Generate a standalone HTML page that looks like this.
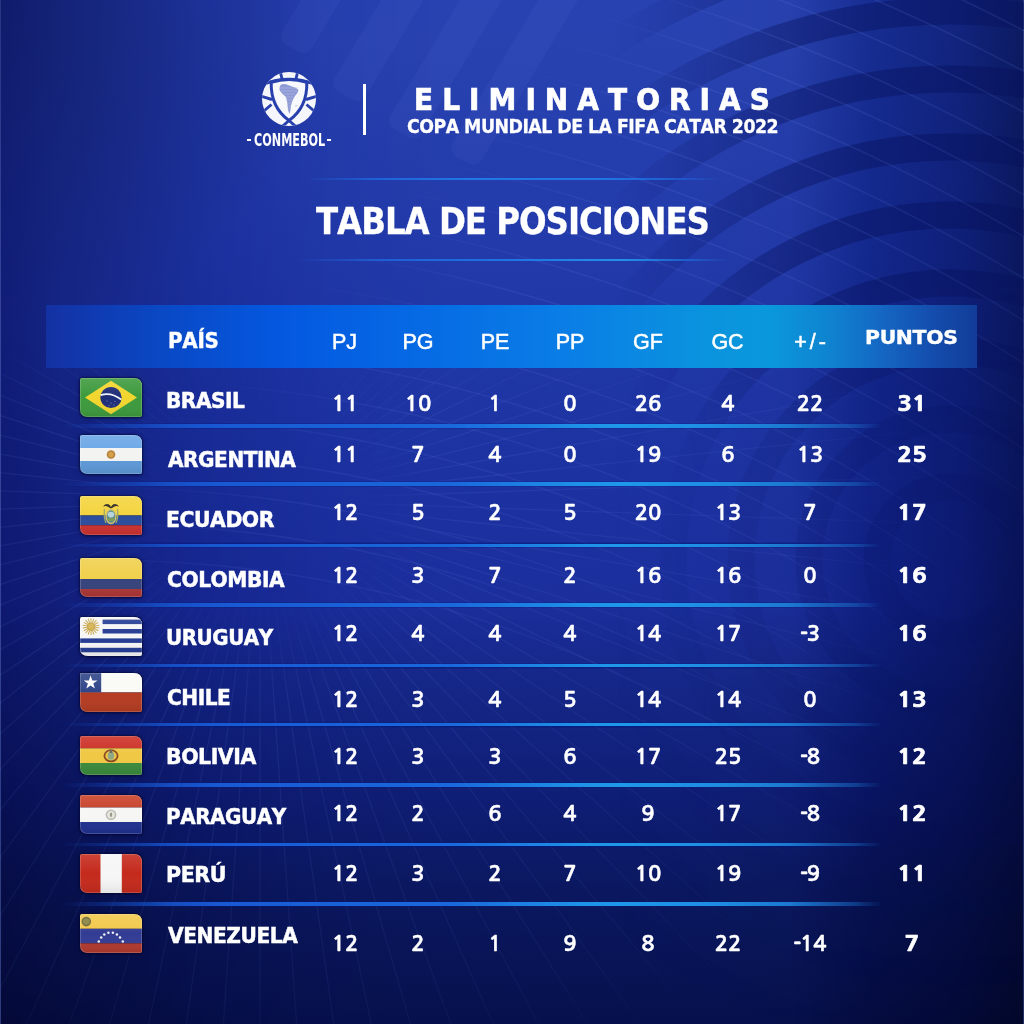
<!DOCTYPE html>
<html><head><meta charset="utf-8"><title>Tabla de Posiciones</title>
<style>
html,body{margin:0;padding:0;}
body{width:1024px;height:1024px;overflow:hidden;position:relative;background:#141f80;font-family:"Liberation Sans",Arial,sans-serif;color:#fff;font-kerning:none;}
.abs{position:absolute;white-space:nowrap;line-height:1;}
.nm{font-weight:700;font-size:23px;left:166.8px;-webkit-text-stroke:0.7px #fff;}
.num{font-family:"NanumGothic","Liberation Sans",sans-serif;font-size:21px;font-weight:700;width:80px;text-align:center;-webkit-text-stroke:0.45px #fff;transform:scaleX(1.05);}
.num b{font-weight:700;margin-right:-1.2px;}
.pts{font-family:"NanumGothic","Liberation Sans",sans-serif;font-weight:800;font-size:21px;transform:scaleX(1.16);-webkit-text-stroke:0.6px #fff;}
.hd{font-size:21.5px;width:80px;text-align:center;-webkit-text-stroke:0.5px #fff;}
.sep{position:absolute;left:60px;width:830px;height:6px;background:linear-gradient(180deg,rgba(2,20,110,0) 0px,rgba(2,24,120,0.55) 1px,rgba(2,24,120,0.55) 5px,rgba(2,20,110,0) 6px);-webkit-mask-image:linear-gradient(90deg,transparent 0px,rgba(0,0,0,0.3) 40px,rgba(0,0,0,0.85) 110px,#000 160px,#000 730px,rgba(0,0,0,0.45) 795px,transparent 822px);}
.sep i{position:absolute;left:0;top:1.2px;width:830px;height:3.6px;background:linear-gradient(90deg,#144cc4 0px,#1858d2 140px,#1a68dc 390px,#1e92e8 520px,#1e98ea 560px,#1e8ee4 650px,#1c78d0 730px,#1a6cc8 830px);}
.flag{position:absolute;left:79.5px;width:62px;height:39px;filter:drop-shadow(0 0 1.2px rgba(0,4,40,0.95)) drop-shadow(0 1px 2px rgba(0,4,40,0.5));}
</style></head><body>

<div class="abs" style="left:0;top:0;width:1024px;height:1024px;background:linear-gradient(180deg,rgb(40,66,178) 0px,rgb(40,66,176) 40px,rgb(34,58,170) 250px,rgb(29,51,162) 450px,rgb(27,46,156) 600px,rgb(21,39,136) 680px,rgb(15,30,118) 790px,rgb(11,24,96) 890px,rgb(7,18,80) 1000px,rgb(6,16,76) 1024px)"></div>
<div class="abs" style="left:0;top:0;width:1024px;height:1024px;mix-blend-mode:multiply;background:linear-gradient(90deg,rgb(128,134,184) 0px,rgb(160,166,200) 60px,rgb(200,208,234) 200px,rgb(236,240,250) 330px,rgb(255,255,255) 450px,rgb(255,255,255) 700px,rgb(246,246,248) 790px,rgb(140,172,210) 870px,rgb(105,135,180) 960px,rgb(75,100,140) 1024px)"></div>
<div class="abs" style="left:0;top:0;width:1px;height:1024px;background:rgba(90,110,190,0.5)"></div>
<div class="abs" style="left:1023px;top:0;width:1px;height:1024px;background:rgba(90,110,190,0.4)"></div>

<svg class="abs" style="left:0;top:0" width="1024" height="1024" viewBox="0 0 1024 1024">
<defs>
<linearGradient id="mh" x1="0" y1="0" x2="1024" y2="0" gradientUnits="userSpaceOnUse">
<stop offset="0.6" stop-color="#fff" stop-opacity="0"/>
<stop offset="0.78" stop-color="#fff" stop-opacity="1"/>
<stop offset="1" stop-color="#fff" stop-opacity="1"/>
</linearGradient>
<linearGradient id="mv" x1="0" y1="0" x2="0" y2="1024" gradientUnits="userSpaceOnUse">
<stop offset="0" stop-color="#fff" stop-opacity="1"/>
<stop offset="0.27" stop-color="#fff" stop-opacity="1"/>
<stop offset="0.42" stop-color="#fff" stop-opacity="0.35"/>
<stop offset="0.8" stop-color="#fff" stop-opacity="0.2"/>
<stop offset="1" stop-color="#fff" stop-opacity="0"/>
</linearGradient>
<mask id="m1"><rect width="1024" height="1024" fill="url(#mh)"/></mask>
<mask id="m3"><rect width="1024" height="1024" fill="url(#mv)"/></mask>
<linearGradient id="pm2" x1="0" y1="0" x2="0" y2="1">
<stop offset="0" stop-color="#fff" stop-opacity="1"/>
<stop offset="0.7" stop-color="#fff" stop-opacity="0.6"/>
<stop offset="1" stop-color="#fff" stop-opacity="0.1"/>
</linearGradient>
<radialGradient id="pm4" cx="60" cy="40" r="520" gradientUnits="userSpaceOnUse">
<stop offset="0.35" stop-color="#000"/>
<stop offset="0.75" stop-color="#000" stop-opacity="0"/>
</radialGradient>
<mask id="m2"><rect width="1024" height="1024" fill="url(#pm2)"/></mask>
<linearGradient id="u1" x1="0" y1="0" x2="0" y2="1024" gradientUnits="userSpaceOnUse"><stop offset="0" stop-color="#fff" stop-opacity="0"/></linearGradient>
<linearGradient id="u2" x1="0" y1="0" x2="1024" y2="1024" gradientUnits="userSpaceOnUse"><stop offset="0.28" stop-color="#fff" stop-opacity="0"/><stop offset="0.4" stop-color="#fff" stop-opacity="1"/><stop offset="0.62" stop-color="#fff" stop-opacity="0.8"/><stop offset="0.8" stop-color="#fff" stop-opacity="0"/></linearGradient>
<radialGradient id="fv" cx="260" cy="500" r="700" gradientUnits="userSpaceOnUse">
<stop offset="0.12" stop-color="#fff" stop-opacity="0"/>
<stop offset="0.3" stop-color="#fff" stop-opacity="1"/>
<stop offset="0.75" stop-color="#fff" stop-opacity="0.6"/>
<stop offset="1" stop-color="#fff" stop-opacity="0"/>
</radialGradient>
<linearGradient id="fy" x1="0" y1="0" x2="0" y2="1024" gradientUnits="userSpaceOnUse"><stop offset="0.33" stop-color="#fff" stop-opacity="0"/><stop offset="0.4" stop-color="#fff" stop-opacity="1"/></linearGradient>
<mask id="m6"><rect width="1024" height="1024" fill="url(#fv)"/></mask>
<mask id="m7"><rect width="1024" height="1024" fill="url(#fy)"/></mask>
<mask id="m5"><rect width="1024" height="1024" fill="url(#u1)"/><rect width="1024" height="1024" fill="url(#u2)"/></mask>
<radialGradient id="tlv" cx="0" cy="0" r="330" gradientUnits="userSpaceOnUse">
<stop offset="0" stop-color="#050c40" stop-opacity="0.32"/>
<stop offset="1" stop-color="#050c40" stop-opacity="0"/>
</radialGradient>
</defs>
<rect width="1024" height="1024" fill="url(#tlv)"/>
<g fill="#8aa0ff" fill-opacity="0.06"><rect x="-17.0" y="-160.0" width="34" height="160" rx="10" transform="translate(292,48) rotate(31)"/><rect x="-18.0" y="-220.0" width="36" height="220" rx="10" transform="translate(345,95.5) rotate(31)"/><rect x="-18.0" y="-260.0" width="36" height="260" rx="10" transform="translate(401,133) rotate(31)"/><rect x="-17.0" y="-260.0" width="34" height="260" rx="10" transform="translate(462,160) rotate(31)"/></g>
<g mask="url(#m1)"><g mask="url(#m3)" fill="none" stroke="#06105a" stroke-opacity="0.42" stroke-width="27"><circle cx="950" cy="560" r="617"/><circle cx="950" cy="560" r="549"/><circle cx="950" cy="560" r="481"/><circle cx="950" cy="560" r="413"/><circle cx="950" cy="560" r="345"/><circle cx="950" cy="560" r="277"/><circle cx="950" cy="560" r="209"/><circle cx="950" cy="560" r="141"/><circle cx="950" cy="560" r="73"/></g></g>
<g mask="url(#m2)"><g mask="url(#m5)" fill="none" stroke="#7a90f0" stroke-opacity="0.15" stroke-width="1.6"><circle cx="100" cy="1800" r="1240"/><circle cx="100" cy="1800" r="1276"/><circle cx="100" cy="1800" r="1312"/><circle cx="100" cy="1800" r="1348"/><circle cx="100" cy="1800" r="1384"/><circle cx="100" cy="1800" r="1420"/><circle cx="100" cy="1800" r="1456"/><circle cx="100" cy="1800" r="1492"/><circle cx="100" cy="1800" r="1528"/><circle cx="100" cy="1800" r="1564"/><circle cx="100" cy="1800" r="1600"/><circle cx="100" cy="1800" r="1636"/><circle cx="100" cy="1800" r="1672"/><circle cx="100" cy="1800" r="1708"/><circle cx="100" cy="1800" r="1744"/><circle cx="100" cy="1800" r="1780"/><circle cx="100" cy="1800" r="1816"/><circle cx="100" cy="1800" r="1852"/><circle cx="100" cy="1800" r="1888"/><circle cx="100" cy="1800" r="1924"/><circle cx="100" cy="1800" r="1960"/><circle cx="100" cy="1800" r="1996"/></g></g>
<g mask="url(#m7)"><g mask="url(#m6)" fill="none" stroke="#7a90f0" stroke-opacity="0.11" stroke-width="1.3"><line x1="260" y1="500" x2="1759.1" y2="552.3"/><line x1="260" y1="500" x2="1751.8" y2="656.8"/><line x1="260" y1="500" x2="1737.2" y2="760.5"/><line x1="260" y1="500" x2="1715.4" y2="862.9"/><line x1="260" y1="500" x2="1686.6" y2="963.5"/><line x1="260" y1="500" x2="1650.8" y2="1061.9"/><line x1="260" y1="500" x2="1608.2" y2="1157.6"/><line x1="260" y1="500" x2="1559.0" y2="1250.0"/><line x1="260" y1="500" x2="1503.6" y2="1338.8"/><line x1="260" y1="500" x2="1442.0" y2="1423.5"/><line x1="260" y1="500" x2="1374.7" y2="1503.7"/><line x1="260" y1="500" x2="1302.0" y2="1579.0"/><line x1="260" y1="500" x2="1224.2" y2="1649.1"/><line x1="260" y1="500" x2="1141.7" y2="1713.5"/><line x1="260" y1="500" x2="1054.9" y2="1772.1"/><line x1="260" y1="500" x2="964.2" y2="1824.4"/><line x1="260" y1="500" x2="870.1" y2="1870.3"/><line x1="260" y1="500" x2="773.0" y2="1909.5"/><line x1="260" y1="500" x2="673.5" y2="1941.9"/><line x1="260" y1="500" x2="571.9" y2="1967.2"/><line x1="260" y1="500" x2="468.8" y2="1985.4"/><line x1="260" y1="500" x2="364.6" y2="1996.3"/><line x1="260" y1="500" x2="260.0" y2="2000.0"/><line x1="260" y1="500" x2="155.4" y2="1996.3"/><line x1="260" y1="500" x2="51.2" y2="1985.4"/><line x1="260" y1="500" x2="-51.9" y2="1967.2"/><line x1="260" y1="500" x2="-153.5" y2="1941.9"/><line x1="260" y1="500" x2="-253.0" y2="1909.5"/><line x1="260" y1="500" x2="-350.1" y2="1870.3"/><line x1="260" y1="500" x2="-444.2" y2="1824.4"/><line x1="260" y1="500" x2="-534.9" y2="1772.1"/><line x1="260" y1="500" x2="-621.7" y2="1713.5"/><line x1="260" y1="500" x2="-704.2" y2="1649.1"/><line x1="260" y1="500" x2="-782.0" y2="1579.0"/><line x1="260" y1="500" x2="-854.7" y2="1503.7"/><line x1="260" y1="500" x2="-922.0" y2="1423.5"/><line x1="260" y1="500" x2="-983.6" y2="1338.8"/><line x1="260" y1="500" x2="-1039.0" y2="1250.0"/><line x1="260" y1="500" x2="-1088.2" y2="1157.6"/><line x1="260" y1="500" x2="-1130.8" y2="1061.9"/><line x1="260" y1="500" x2="-1166.6" y2="963.5"/><line x1="260" y1="500" x2="-1195.4" y2="862.9"/><line x1="260" y1="500" x2="-1217.2" y2="760.5"/><line x1="260" y1="500" x2="-1231.8" y2="656.8"/><line x1="260" y1="500" x2="-1239.1" y2="552.3"/><line x1="260" y1="500" x2="-1239.1" y2="447.7"/><line x1="260" y1="500" x2="-1231.8" y2="343.2"/><line x1="260" y1="500" x2="-1217.2" y2="239.5"/><line x1="260" y1="500" x2="-1195.4" y2="137.1"/><line x1="260" y1="500" x2="-1166.6" y2="36.5"/><line x1="260" y1="500" x2="-1130.8" y2="-61.9"/><line x1="260" y1="500" x2="-1088.2" y2="-157.6"/><line x1="260" y1="500" x2="-1039.0" y2="-250.0"/><line x1="260" y1="500" x2="-983.6" y2="-338.8"/><line x1="260" y1="500" x2="-922.0" y2="-423.5"/><line x1="260" y1="500" x2="-854.7" y2="-503.7"/><line x1="260" y1="500" x2="-782.0" y2="-579.0"/><line x1="260" y1="500" x2="-704.2" y2="-649.1"/><line x1="260" y1="500" x2="-621.7" y2="-713.5"/><line x1="260" y1="500" x2="-534.9" y2="-772.1"/><line x1="260" y1="500" x2="-444.2" y2="-824.4"/><line x1="260" y1="500" x2="-350.1" y2="-870.3"/><line x1="260" y1="500" x2="-253.0" y2="-909.5"/><line x1="260" y1="500" x2="-153.5" y2="-941.9"/><line x1="260" y1="500" x2="-51.9" y2="-967.2"/><line x1="260" y1="500" x2="51.2" y2="-985.4"/><line x1="260" y1="500" x2="155.4" y2="-996.3"/><line x1="260" y1="500" x2="260.0" y2="-1000.0"/><line x1="260" y1="500" x2="364.6" y2="-996.3"/><line x1="260" y1="500" x2="468.8" y2="-985.4"/><line x1="260" y1="500" x2="571.9" y2="-967.2"/><line x1="260" y1="500" x2="673.5" y2="-941.9"/><line x1="260" y1="500" x2="773.0" y2="-909.5"/><line x1="260" y1="500" x2="870.1" y2="-870.3"/><line x1="260" y1="500" x2="964.2" y2="-824.4"/><line x1="260" y1="500" x2="1054.9" y2="-772.1"/><line x1="260" y1="500" x2="1141.7" y2="-713.5"/><line x1="260" y1="500" x2="1224.2" y2="-649.1"/><line x1="260" y1="500" x2="1302.0" y2="-579.0"/><line x1="260" y1="500" x2="1374.7" y2="-503.7"/><line x1="260" y1="500" x2="1442.0" y2="-423.5"/><line x1="260" y1="500" x2="1503.6" y2="-338.8"/><line x1="260" y1="500" x2="1559.0" y2="-250.0"/><line x1="260" y1="500" x2="1608.2" y2="-157.6"/><line x1="260" y1="500" x2="1650.8" y2="-61.9"/><line x1="260" y1="500" x2="1686.6" y2="36.5"/><line x1="260" y1="500" x2="1715.4" y2="137.1"/><line x1="260" y1="500" x2="1737.2" y2="239.5"/><line x1="260" y1="500" x2="1751.8" y2="343.2"/><line x1="260" y1="500" x2="1759.1" y2="447.7"/></g></g>
</svg>
<svg class="abs" style="left:255px;top:65px" width="70" height="70" viewBox="255 65 70 70">
<defs><clipPath id="lc"><circle cx="289" cy="99" r="27"/></clipPath></defs>
<g clip-path="url(#lc)">
<rect x="255" y="65" width="70" height="70" fill="#f5f6fb"/>
<g fill="none" stroke="#2840ad" stroke-width="2.9" stroke-linecap="butt">
<path d="M256,87.5 Q289,71 322,87.5"/>
<path d="M282.2,79.5 L279.6,69 M295.8,79.5 L298.4,69"/>
<path d="M257,95 L272,99.5 M321,95 L306,99.5"/>
<path d="M258,116 L271.5,104.5 M320,116 L306.5,104.5"/>
<path d="M289,120.5 L302,132 M289,120.5 L276,132"/>
</g>
<path d="M271.2,82.2 Q289,76.8 306.8,82.2 Q307.5,107 289,120.5 Q270.5,107 271.2,82.2 Z" fill="#f8f9fd" stroke="#2840ad" stroke-width="3"/>
<path d="M281,84.5 Q285,83.5 288,85 L292,86.5 Q296,87 298.5,90 Q298,93 295,96 Q293,99 292,102 Q290.5,106 290.5,110 L289.5,114 Q287.5,110 287.5,105 Q287,100 286,97 Q282,94 280,91 Q278.5,88 281,84.5 Z" fill="#8e9ad6"/>
<g stroke="#b4bde6" stroke-width="0.7" opacity="0.8"><path d="M280,88 H298 M281,91 H297 M283,94 H295 M285.5,97 H293.5 M286.5,100 H292.5 M287,103 H291.5 M287.5,106 H291 M288,109 H290.8"/></g>
<path d="M295,105.8 h2.6" stroke="#a0a8d8" stroke-width="0.6"/>
</g>
</svg>
<div class="abs" style="left:254.21px;top:131.00px;font-family:'DejaVu Sans Condensed',sans-serif;font-weight:700;font-size:18.06px;letter-spacing:0px;transform:scaleX(0.6902);transform-origin:0 0;">CONMEBOL</div>
<div class="abs" style="left:246.6px;top:138.6px;width:4.2px;height:2.3px;background:#fff"></div>
<div class="abs" style="left:326.5px;top:138.6px;width:4.2px;height:2.3px;background:#fff"></div>
<div class="abs" style="left:363px;top:84px;width:2.5px;height:51px;background:#fff"></div>

<div class="abs" style="left:414.09px;top:86.20px;font-family:'DejaVu Sans',sans-serif;font-weight:700;font-size:29.28px;letter-spacing:9.5px;-webkit-text-stroke:0.7px #fff;transform:scaleX(0.955);transform-origin:0 0;">ELIMINATORIAS</div>
<div class="abs" style="left:406.51px;top:117.00px;font-family:'DejaVu Sans',sans-serif;font-weight:700;font-size:19.55px;letter-spacing:-0.6px;-webkit-text-stroke:0.3px #fff;transform:scaleX(0.8901);transform-origin:0 0;">COPA MUNDIAL DE LA FIFA CATAR 2022</div>
<div class="abs" style="left:305px;top:177.5px;width:415px;height:2.2px;background:linear-gradient(90deg,rgba(30,110,230,0),rgba(30,110,230,0.8) 18%,#2078e6 40%,#2078e6 70%,rgba(30,110,230,0.7) 88%,rgba(30,110,230,0))"></div>
<div class="abs" style="left:295px;top:259.2px;width:435px;height:2.2px;background:linear-gradient(90deg,rgba(30,110,230,0),rgba(30,110,230,0.7) 20%,#1f74e4 50%,#2590ea 75%,rgba(30,120,230,0.6) 90%,rgba(30,110,230,0))"></div>
<div class="abs" style="left:316.00px;top:203.00px;font-family:'DejaVu Sans',sans-serif;font-weight:700;font-size:37.21px;letter-spacing:-1.2px;-webkit-text-stroke:0.3px #fff;transform:scaleX(0.8731);transform-origin:0 0;">TABLA DE POSICIONES</div>
<div class="abs" style="left:46px;top:304.6px;width:931px;height:63px;background:linear-gradient(90deg,#1431a2 0%,#0f3cb4 5.8%,#0a48c4 12.2%,#0458e0 25%,#066ae4 40%,#0a7ee6 56%,#0a92de 70%,#0a98dc 77.5%,#0f84d0 84%,#1468c4 89.5%,#144cac 95.5%,#123c98 100%)"></div>
<div class="abs" style="left:167.56px;top:330.70px;font-family:'DejaVu Sans',sans-serif;font-weight:700;font-size:20.54px;letter-spacing:-0.3px;-webkit-text-stroke:0.4px #fff;transform:scaleX(0.9694);transform-origin:0 0;">PAÍS</div>
<div class="abs hd" style="left:304.5px;top:332.0px;">PJ</div>
<div class="abs hd" style="left:378.0px;top:332.0px;">PG</div>
<div class="abs hd" style="left:455.0px;top:332.0px;">PE</div>
<div class="abs hd" style="left:530.0px;top:332.0px;">PP</div>
<div class="abs hd" style="left:608.0px;top:332.0px;">GF</div>
<div class="abs hd" style="left:687.5px;top:332.0px;">GC</div>
<div class="abs hd" style="left:771.5px;top:332.0px;letter-spacing:3px;">+/-</div>
<div class="abs" style="left:864.66px;top:327.50px;font-family:'DejaVu Sans',sans-serif;font-weight:700;font-size:19.7px;letter-spacing:-0.3px;-webkit-text-stroke:0.4px #fff;transform:scaleX(1.0352);transform-origin:0 0;">PUNTOS</div>
<div class="sep" style="top:423.3px"><i></i></div>
<div class="sep" style="top:481.3px"><i></i></div>
<div class="sep" style="top:542.4px"><i></i></div>
<div class="sep" style="top:602.0px"><i></i></div>
<div class="sep" style="top:662.5px"><i></i></div>
<div class="sep" style="top:721.5px"><i></i></div>
<div class="sep" style="top:782.0px"><i></i></div>
<div class="sep" style="top:841.6px"><i></i></div>
<div class="sep" style="top:901.0px"><i></i></div>
<svg class="flag" style="top:377.5px" viewBox="0 0 62 39"><defs><clipPath id="c0"><path d="M2,0 H54 Q62,0 62,8 V37 Q62,39 60,39 H8 Q0,39 0,31 V2 Q0,0 2,0 Z"/></clipPath><linearGradient id="gl0" x1="0" y1="0" x2="0" y2="1"><stop offset="0" stop-color="#fff" stop-opacity="0.12"/><stop offset="0.5" stop-color="#fff" stop-opacity="0"/><stop offset="1" stop-color="#000" stop-opacity="0.08"/></linearGradient></defs><g clip-path="url(#c0)"><rect width="62" height="39" fill="#3d9a3d"/>
<polygon points="5,19.5 31,2.8 57,19.5 31,36.2" fill="#f2d62e"/>
<circle cx="31" cy="19.5" r="10.6" fill="#1e2d78"/>
<path d="M20.6,17.2 Q31,13.8 41.2,21.6" stroke="#eef2fa" stroke-width="1.9" fill="none"/>
<g fill="#c8d0f0" opacity="0.6"><circle cx="27" cy="23" r="0.6"/><circle cx="31" cy="25" r="0.6"/><circle cx="35" cy="23.5" r="0.6"/><circle cx="29" cy="27.5" r="0.6"/><circle cx="34" cy="27" r="0.6"/></g><rect width="62" height="39" fill="url(#gl0)"/><path d="M2,0 H54 Q62,0 62,8 V37 Q62,39 60,39 H8 Q0,39 0,31 V2 Q0,0 2,0 Z" fill="none" stroke="#fff" stroke-opacity="0.22" stroke-width="1.6"/></g></svg>
<div class="abs" style="left:166.37px;top:390.30px;font-family:'DejaVu Sans',sans-serif;font-weight:700;font-size:22px;letter-spacing:-0.5px;-webkit-text-stroke:0.5px #fff;transform:scaleX(0.9143);transform-origin:0 0;">BRASIL</div>
<div class="abs num" style="left:304.5px;top:392.9px">11</div>
<div class="abs num" style="left:378.0px;top:392.9px">10</div>
<div class="abs num" style="left:455.0px;top:392.9px">1</div>
<div class="abs num" style="left:530.0px;top:392.9px">0</div>
<div class="abs num" style="left:608.0px;top:392.9px">26</div>
<div class="abs num" style="left:687.5px;top:392.9px">4</div>
<div class="abs num" style="left:770.0px;top:392.9px">22</div>
<div class="abs pts" style="left:871.5px;width:80px;text-align:center;top:392.9px">31</div>
<svg class="flag" style="top:435.0px" viewBox="0 0 62 39"><defs><clipPath id="c1"><path d="M2,0 H54 Q62,0 62,8 V37 Q62,39 60,39 H8 Q0,39 0,31 V2 Q0,0 2,0 Z"/></clipPath><linearGradient id="gl1" x1="0" y1="0" x2="0" y2="1"><stop offset="0" stop-color="#fff" stop-opacity="0.12"/><stop offset="0.5" stop-color="#fff" stop-opacity="0"/><stop offset="1" stop-color="#000" stop-opacity="0.08"/></linearGradient></defs><g clip-path="url(#c1)"><rect width="62" height="13" fill="#6aa6e6"/>
<rect y="13" width="62" height="13" fill="#f3f3f1"/>
<rect y="26" width="62" height="13" fill="#5d99d8"/>
<circle cx="31" cy="19.5" r="4.3" fill="#b8823a"/>
<circle cx="31" cy="19.5" r="2.6" fill="#d4a24e"/><rect width="62" height="39" fill="url(#gl1)"/><path d="M2,0 H54 Q62,0 62,8 V37 Q62,39 60,39 H8 Q0,39 0,31 V2 Q0,0 2,0 Z" fill="none" stroke="#fff" stroke-opacity="0.22" stroke-width="1.6"/></g></svg>
<div class="abs" style="left:168.20px;top:449.00px;font-family:'DejaVu Sans',sans-serif;font-weight:700;font-size:22px;letter-spacing:-0.5px;-webkit-text-stroke:0.5px #fff;transform:scaleX(0.9129);transform-origin:0 0;">ARGENTINA</div>
<div class="abs num" style="left:304.5px;top:444.4px">11</div>
<div class="abs num" style="left:378.0px;top:444.4px">7</div>
<div class="abs num" style="left:455.0px;top:444.4px">4</div>
<div class="abs num" style="left:530.0px;top:444.4px">0</div>
<div class="abs num" style="left:608.0px;top:444.4px">19</div>
<div class="abs num" style="left:687.5px;top:444.4px">6</div>
<div class="abs num" style="left:770.0px;top:444.4px">13</div>
<div class="abs pts" style="left:871.5px;width:80px;text-align:center;top:444.4px">25</div>
<svg class="flag" style="top:496.0px" viewBox="0 0 62 39"><defs><clipPath id="c2"><path d="M2,0 H54 Q62,0 62,8 V37 Q62,39 60,39 H8 Q0,39 0,31 V2 Q0,0 2,0 Z"/></clipPath><linearGradient id="gl2" x1="0" y1="0" x2="0" y2="1"><stop offset="0" stop-color="#fff" stop-opacity="0.12"/><stop offset="0.5" stop-color="#fff" stop-opacity="0"/><stop offset="1" stop-color="#000" stop-opacity="0.08"/></linearGradient></defs><g clip-path="url(#c2)"><rect width="62" height="19.5" fill="#f4d43e"/>
<rect y="19.5" width="62" height="9.75" fill="#2a4c9c"/>
<rect y="29.25" width="62" height="9.75" fill="#cc3230"/>
<path d="M23,10.5 Q25,7 28.5,8.2 Q30,9 31,11 Q32,9 33.5,8.2 Q37,7 39,10.5 Q36,9.5 34,10.8 Q32.5,11.8 31,12.5 Q29.5,11.8 28,10.8 Q26,9.5 23,10.5 Z" fill="#2b2a22"/>
<path d="M24.5,13 Q23.5,21 26,27 M37.5,13 Q38.5,21 36,27" stroke="#9aa86a" stroke-width="1.3" fill="none"/>
<ellipse cx="31" cy="20.5" rx="5.6" ry="7.8" fill="#d6c26a"/>
<ellipse cx="31" cy="20.5" rx="4.2" ry="6.3" fill="#5d8f8a"/>
<ellipse cx="31" cy="18.6" rx="3.3" ry="2.8" fill="#b9d4dc"/>
<rect x="27.8" y="22" width="6.4" height="3" fill="#7a9a5a"/><rect width="62" height="39" fill="url(#gl2)"/><path d="M2,0 H54 Q62,0 62,8 V37 Q62,39 60,39 H8 Q0,39 0,31 V2 Q0,0 2,0 Z" fill="none" stroke="#fff" stroke-opacity="0.22" stroke-width="1.6"/></g></svg>
<div class="abs" style="left:166.35px;top:508.90px;font-family:'DejaVu Sans',sans-serif;font-weight:700;font-size:22px;letter-spacing:-0.5px;-webkit-text-stroke:0.5px #fff;transform:scaleX(0.927);transform-origin:0 0;">ECUADOR</div>
<div class="abs num" style="left:304.5px;top:501.9px">12</div>
<div class="abs num" style="left:378.0px;top:501.9px">5</div>
<div class="abs num" style="left:455.0px;top:501.9px">2</div>
<div class="abs num" style="left:530.0px;top:501.9px">5</div>
<div class="abs num" style="left:608.0px;top:501.9px">20</div>
<div class="abs num" style="left:687.5px;top:501.9px">13</div>
<div class="abs num" style="left:770.0px;top:501.9px">7</div>
<div class="abs pts" style="left:871.5px;width:80px;text-align:center;top:501.9px">17</div>
<svg class="flag" style="top:557.5px" viewBox="0 0 62 39"><defs><clipPath id="c3"><path d="M2,0 H54 Q62,0 62,8 V37 Q62,39 60,39 H8 Q0,39 0,31 V2 Q0,0 2,0 Z"/></clipPath><linearGradient id="gl3" x1="0" y1="0" x2="0" y2="1"><stop offset="0" stop-color="#fff" stop-opacity="0.12"/><stop offset="0.5" stop-color="#fff" stop-opacity="0"/><stop offset="1" stop-color="#000" stop-opacity="0.08"/></linearGradient></defs><g clip-path="url(#c3)"><rect width="62" height="21" fill="#f0d04c"/>
<rect y="21" width="62" height="10" fill="#36427c"/>
<rect y="31" width="62" height="8" fill="#ad3636"/><rect width="62" height="39" fill="url(#gl3)"/><path d="M2,0 H54 Q62,0 62,8 V37 Q62,39 60,39 H8 Q0,39 0,31 V2 Q0,0 2,0 Z" fill="none" stroke="#fff" stroke-opacity="0.22" stroke-width="1.6"/></g></svg>
<div class="abs" style="left:167.28px;top:568.80px;font-family:'DejaVu Sans',sans-serif;font-weight:700;font-size:22px;letter-spacing:-0.5px;-webkit-text-stroke:0.5px #fff;transform:scaleX(0.9197);transform-origin:0 0;">COLOMBIA</div>
<div class="abs num" style="left:304.5px;top:564.9px">12</div>
<div class="abs num" style="left:378.0px;top:564.9px">3</div>
<div class="abs num" style="left:455.0px;top:564.9px">7</div>
<div class="abs num" style="left:530.0px;top:564.9px">2</div>
<div class="abs num" style="left:608.0px;top:564.9px">16</div>
<div class="abs num" style="left:687.5px;top:564.9px">16</div>
<div class="abs num" style="left:770.0px;top:564.9px">0</div>
<div class="abs pts" style="left:871.5px;width:80px;text-align:center;top:564.9px">16</div>
<svg class="flag" style="top:616.5px" viewBox="0 0 62 39"><defs><clipPath id="c4"><path d="M2,0 H54 Q62,0 62,8 V37 Q62,39 60,39 H8 Q0,39 0,31 V2 Q0,0 2,0 Z"/></clipPath><linearGradient id="gl4" x1="0" y1="0" x2="0" y2="1"><stop offset="0" stop-color="#fff" stop-opacity="0.12"/><stop offset="0.5" stop-color="#fff" stop-opacity="0"/><stop offset="1" stop-color="#000" stop-opacity="0.08"/></linearGradient></defs><g clip-path="url(#c4)"><rect width="62" height="39" fill="#f6f6f6"/><rect x="22.6" y="2.6" width="39.4" height="4.5" fill="#243b93"/><rect x="22.6" y="12.0" width="39.4" height="4.5" fill="#243b93"/><rect x="0" y="21.4" width="62" height="4.5" fill="#243b93"/><rect x="0" y="30.8" width="62" height="4.5" fill="#243b93"/><g fill="#c8a44a"><rect x="10.5" y="1.2" width="1" height="4.2" transform="rotate(0 11 9.6)"/><rect x="10.5" y="1.2" width="1" height="4.2" transform="rotate(20 11 9.6)"/><rect x="10.5" y="1.2" width="1" height="4.2" transform="rotate(40 11 9.6)"/><rect x="10.5" y="1.2" width="1" height="4.2" transform="rotate(60 11 9.6)"/><rect x="10.5" y="1.2" width="1" height="4.2" transform="rotate(80 11 9.6)"/><rect x="10.5" y="1.2" width="1" height="4.2" transform="rotate(100 11 9.6)"/><rect x="10.5" y="1.2" width="1" height="4.2" transform="rotate(120 11 9.6)"/><rect x="10.5" y="1.2" width="1" height="4.2" transform="rotate(140 11 9.6)"/><rect x="10.5" y="1.2" width="1" height="4.2" transform="rotate(160 11 9.6)"/><rect x="10.5" y="1.2" width="1" height="4.2" transform="rotate(180 11 9.6)"/><rect x="10.5" y="1.2" width="1" height="4.2" transform="rotate(200 11 9.6)"/><rect x="10.5" y="1.2" width="1" height="4.2" transform="rotate(220 11 9.6)"/><rect x="10.5" y="1.2" width="1" height="4.2" transform="rotate(240 11 9.6)"/><rect x="10.5" y="1.2" width="1" height="4.2" transform="rotate(260 11 9.6)"/><rect x="10.5" y="1.2" width="1" height="4.2" transform="rotate(280 11 9.6)"/><rect x="10.5" y="1.2" width="1" height="4.2" transform="rotate(300 11 9.6)"/><rect x="10.5" y="1.2" width="1" height="4.2" transform="rotate(320 11 9.6)"/><rect x="10.5" y="1.2" width="1" height="4.2" transform="rotate(340 11 9.6)"/></g><circle cx="11" cy="9.6" r="4.4" fill="#c8a44a"/><circle cx="11" cy="9.6" r="2.8" fill="#d6b454"/><rect width="62" height="39" fill="url(#gl4)"/><path d="M2,0 H54 Q62,0 62,8 V37 Q62,39 60,39 H8 Q0,39 0,31 V2 Q0,0 2,0 Z" fill="none" stroke="#fff" stroke-opacity="0.22" stroke-width="1.6"/></g></svg>
<div class="abs" style="left:166.39px;top:627.40px;font-family:'DejaVu Sans',sans-serif;font-weight:700;font-size:22px;letter-spacing:-0.5px;-webkit-text-stroke:0.5px #fff;transform:scaleX(0.9043);transform-origin:0 0;">URUGUAY</div>
<div class="abs num" style="left:304.5px;top:623.4px">12</div>
<div class="abs num" style="left:378.0px;top:623.4px">4</div>
<div class="abs num" style="left:455.0px;top:623.4px">4</div>
<div class="abs num" style="left:530.0px;top:623.4px">4</div>
<div class="abs num" style="left:608.0px;top:623.4px">14</div>
<div class="abs num" style="left:687.5px;top:623.4px">17</div>
<div class="abs num" style="left:770.0px;top:623.4px"><b>-</b>3</div>
<div class="abs pts" style="left:871.5px;width:80px;text-align:center;top:623.4px">16</div>
<svg class="flag" style="top:673.0px" viewBox="0 0 62 39"><defs><clipPath id="c5"><path d="M2,0 H54 Q62,0 62,8 V37 Q62,39 60,39 H8 Q0,39 0,31 V2 Q0,0 2,0 Z"/></clipPath><linearGradient id="gl5" x1="0" y1="0" x2="0" y2="1"><stop offset="0" stop-color="#fff" stop-opacity="0.12"/><stop offset="0.5" stop-color="#fff" stop-opacity="0"/><stop offset="1" stop-color="#000" stop-opacity="0.08"/></linearGradient></defs><g clip-path="url(#c5)"><rect width="62" height="19.5" fill="#fafaf6"/>
<rect width="21.2" height="19.5" fill="#2f4588"/>
<rect y="19.5" width="62" height="19.5" fill="#b43c22"/>
<polygon points="10.6,2.4 12.3,7.4 17.5,7.4 13.3,10.5 14.9,15.5 10.6,12.4 6.3,15.5 7.9,10.5 3.7,7.4 8.9,7.4" fill="#ffffff"/><rect width="62" height="39" fill="url(#gl5)"/><path d="M2,0 H54 Q62,0 62,8 V37 Q62,39 60,39 H8 Q0,39 0,31 V2 Q0,0 2,0 Z" fill="none" stroke="#fff" stroke-opacity="0.22" stroke-width="1.6"/></g></svg>
<div class="abs" style="left:167.29px;top:687.30px;font-family:'DejaVu Sans',sans-serif;font-weight:700;font-size:22px;letter-spacing:-0.5px;-webkit-text-stroke:0.5px #fff;transform:scaleX(0.9132);transform-origin:0 0;">CHILE</div>
<div class="abs num" style="left:304.5px;top:688.9px">12</div>
<div class="abs num" style="left:378.0px;top:688.9px">3</div>
<div class="abs num" style="left:455.0px;top:688.9px">4</div>
<div class="abs num" style="left:530.0px;top:688.9px">5</div>
<div class="abs num" style="left:608.0px;top:688.9px">14</div>
<div class="abs num" style="left:687.5px;top:688.9px">14</div>
<div class="abs num" style="left:770.0px;top:688.9px">0</div>
<div class="abs pts" style="left:871.5px;width:80px;text-align:center;top:688.9px">13</div>
<svg class="flag" style="top:736.0px" viewBox="0 0 62 39"><defs><clipPath id="c6"><path d="M2,0 H54 Q62,0 62,8 V37 Q62,39 60,39 H8 Q0,39 0,31 V2 Q0,0 2,0 Z"/></clipPath><linearGradient id="gl6" x1="0" y1="0" x2="0" y2="1"><stop offset="0" stop-color="#fff" stop-opacity="0.12"/><stop offset="0.5" stop-color="#fff" stop-opacity="0"/><stop offset="1" stop-color="#000" stop-opacity="0.08"/></linearGradient></defs><g clip-path="url(#c6)"><rect width="62" height="12.3" fill="#cc3026"/>
<rect y="12.3" width="62" height="14.7" fill="#f0c844"/>
<rect y="27" width="62" height="12" fill="#3a8a3c"/>
<ellipse cx="31" cy="19.8" rx="6.6" ry="5.6" fill="none" stroke="#8a4a22" stroke-width="1.8"/>
<ellipse cx="31" cy="19.8" rx="3.3" ry="4" fill="#8fa888"/>
<rect x="29.6" y="14" width="2.8" height="3" fill="#6a6a5a"/><rect width="62" height="39" fill="url(#gl6)"/><path d="M2,0 H54 Q62,0 62,8 V37 Q62,39 60,39 H8 Q0,39 0,31 V2 Q0,0 2,0 Z" fill="none" stroke="#fff" stroke-opacity="0.22" stroke-width="1.6"/></g></svg>
<div class="abs" style="left:166.34px;top:745.90px;font-family:'DejaVu Sans',sans-serif;font-weight:700;font-size:22px;letter-spacing:-0.5px;-webkit-text-stroke:0.5px #fff;transform:scaleX(0.9316);transform-origin:0 0;">BOLIVIA</div>
<div class="abs num" style="left:304.5px;top:745.9px">12</div>
<div class="abs num" style="left:378.0px;top:745.9px">3</div>
<div class="abs num" style="left:455.0px;top:745.9px">3</div>
<div class="abs num" style="left:530.0px;top:745.9px">6</div>
<div class="abs num" style="left:608.0px;top:745.9px">17</div>
<div class="abs num" style="left:687.5px;top:745.9px">25</div>
<div class="abs num" style="left:770.0px;top:745.9px"><b>-</b>8</div>
<div class="abs pts" style="left:871.5px;width:80px;text-align:center;top:745.9px">12</div>
<svg class="flag" style="top:795.0px" viewBox="0 0 62 39"><defs><clipPath id="c7"><path d="M2,0 H54 Q62,0 62,8 V37 Q62,39 60,39 H8 Q0,39 0,31 V2 Q0,0 2,0 Z"/></clipPath><linearGradient id="gl7" x1="0" y1="0" x2="0" y2="1"><stop offset="0" stop-color="#fff" stop-opacity="0.12"/><stop offset="0.5" stop-color="#fff" stop-opacity="0"/><stop offset="1" stop-color="#000" stop-opacity="0.08"/></linearGradient></defs><g clip-path="url(#c7)"><rect width="62" height="12.5" fill="#c84028"/>
<rect y="12.5" width="62" height="14.5" fill="#f6f6f4"/>
<rect y="27" width="62" height="12" fill="#1f3090"/>
<circle cx="31" cy="19.8" r="5.4" fill="#bdbdb5"/>
<circle cx="31" cy="19.8" r="3.8" fill="#e6e6de"/>
<ellipse cx="31" cy="19.8" rx="1.2" ry="2.2" fill="#9a9a8a"/><rect width="62" height="39" fill="url(#gl7)"/><path d="M2,0 H54 Q62,0 62,8 V37 Q62,39 60,39 H8 Q0,39 0,31 V2 Q0,0 2,0 Z" fill="none" stroke="#fff" stroke-opacity="0.22" stroke-width="1.6"/></g></svg>
<div class="abs" style="left:166.39px;top:805.50px;font-family:'DejaVu Sans',sans-serif;font-weight:700;font-size:22px;letter-spacing:-0.5px;-webkit-text-stroke:0.5px #fff;transform:scaleX(0.9069);transform-origin:0 0;">PARAGUAY</div>
<div class="abs num" style="left:304.5px;top:803.4px">12</div>
<div class="abs num" style="left:378.0px;top:803.4px">2</div>
<div class="abs num" style="left:455.0px;top:803.4px">6</div>
<div class="abs num" style="left:530.0px;top:803.4px">4</div>
<div class="abs num" style="left:608.0px;top:803.4px">9</div>
<div class="abs num" style="left:687.5px;top:803.4px">17</div>
<div class="abs num" style="left:770.0px;top:803.4px"><b>-</b>8</div>
<div class="abs pts" style="left:871.5px;width:80px;text-align:center;top:803.4px">12</div>
<svg class="flag" style="top:853.5px" viewBox="0 0 62 39"><defs><clipPath id="c8"><path d="M2,0 H54 Q62,0 62,8 V37 Q62,39 60,39 H8 Q0,39 0,31 V2 Q0,0 2,0 Z"/></clipPath><linearGradient id="gl8" x1="0" y1="0" x2="0" y2="1"><stop offset="0" stop-color="#fff" stop-opacity="0.12"/><stop offset="0.5" stop-color="#fff" stop-opacity="0"/><stop offset="1" stop-color="#000" stop-opacity="0.08"/></linearGradient></defs><g clip-path="url(#c8)"><rect width="62" height="39" fill="#c42a1c"/>
<rect x="20.5" width="21.3" height="39" fill="#f6f6f6"/><rect width="62" height="39" fill="url(#gl8)"/><path d="M2,0 H54 Q62,0 62,8 V37 Q62,39 60,39 H8 Q0,39 0,31 V2 Q0,0 2,0 Z" fill="none" stroke="#fff" stroke-opacity="0.22" stroke-width="1.6"/></g></svg>
<div class="abs" style="left:166.32px;top:864.20px;font-family:'DejaVu Sans',sans-serif;font-weight:700;font-size:22px;letter-spacing:-0.5px;-webkit-text-stroke:0.5px #fff;transform:scaleX(0.9377);transform-origin:0 0;">PERÚ</div>
<div class="abs num" style="left:304.5px;top:863.4px">12</div>
<div class="abs num" style="left:378.0px;top:863.4px">3</div>
<div class="abs num" style="left:455.0px;top:863.4px">2</div>
<div class="abs num" style="left:530.0px;top:863.4px">7</div>
<div class="abs num" style="left:608.0px;top:863.4px">10</div>
<div class="abs num" style="left:687.5px;top:863.4px">19</div>
<div class="abs num" style="left:770.0px;top:863.4px"><b>-</b>9</div>
<div class="abs pts" style="left:871.5px;width:80px;text-align:center;top:863.4px">11</div>
<svg class="flag" style="top:914.0px" viewBox="0 0 62 39"><defs><clipPath id="c9"><path d="M2,0 H54 Q62,0 62,8 V37 Q62,39 60,39 H8 Q0,39 0,31 V2 Q0,0 2,0 Z"/></clipPath><linearGradient id="gl9" x1="0" y1="0" x2="0" y2="1"><stop offset="0" stop-color="#fff" stop-opacity="0.12"/><stop offset="0.5" stop-color="#fff" stop-opacity="0"/><stop offset="1" stop-color="#000" stop-opacity="0.08"/></linearGradient></defs><g clip-path="url(#c9)"><rect width="62" height="14.8" fill="#f2c84a"/>
<rect y="14.8" width="62" height="14.5" fill="#323c94"/>
<rect y="29.3" width="62" height="9.7" fill="#b23a30"/>
<circle cx="6.3" cy="7.6" r="4.8" fill="#6e6a3a"/>
<circle cx="6.3" cy="7.6" r="3.2" fill="#8a8440"/>
<g fill="#eef0fa"><circle cx="18.8" cy="27.4" r="1.25"/><circle cx="21.2" cy="23.4" r="1.25"/><circle cx="24.3" cy="20.4" r="1.25"/><circle cx="28.4" cy="18.8" r="1.25"/><circle cx="32.9" cy="18.8" r="1.25"/><circle cx="36.9" cy="20.4" r="1.25"/><circle cx="40" cy="23.4" r="1.25"/><circle cx="42.8" cy="27.4" r="1.25"/></g><rect width="62" height="39" fill="url(#gl9)"/><path d="M2,0 H54 Q62,0 62,8 V37 Q62,39 60,39 H8 Q0,39 0,31 V2 Q0,0 2,0 Z" fill="none" stroke="#fff" stroke-opacity="0.22" stroke-width="1.6"/></g></svg>
<div class="abs" style="left:168.20px;top:924.50px;font-family:'DejaVu Sans',sans-serif;font-weight:700;font-size:22px;letter-spacing:-0.5px;-webkit-text-stroke:0.5px #fff;transform:scaleX(0.9184);transform-origin:0 0;">VENEZUELA</div>
<div class="abs num" style="left:304.5px;top:932.9px">12</div>
<div class="abs num" style="left:378.0px;top:932.9px">2</div>
<div class="abs num" style="left:455.0px;top:932.9px">1</div>
<div class="abs num" style="left:530.0px;top:932.9px">9</div>
<div class="abs num" style="left:608.0px;top:932.9px">8</div>
<div class="abs num" style="left:687.5px;top:932.9px">22</div>
<div class="abs num" style="left:770.0px;top:932.9px"><b>-</b>14</div>
<div class="abs pts" style="left:871.5px;width:80px;text-align:center;top:932.9px">7</div>
</body></html>
